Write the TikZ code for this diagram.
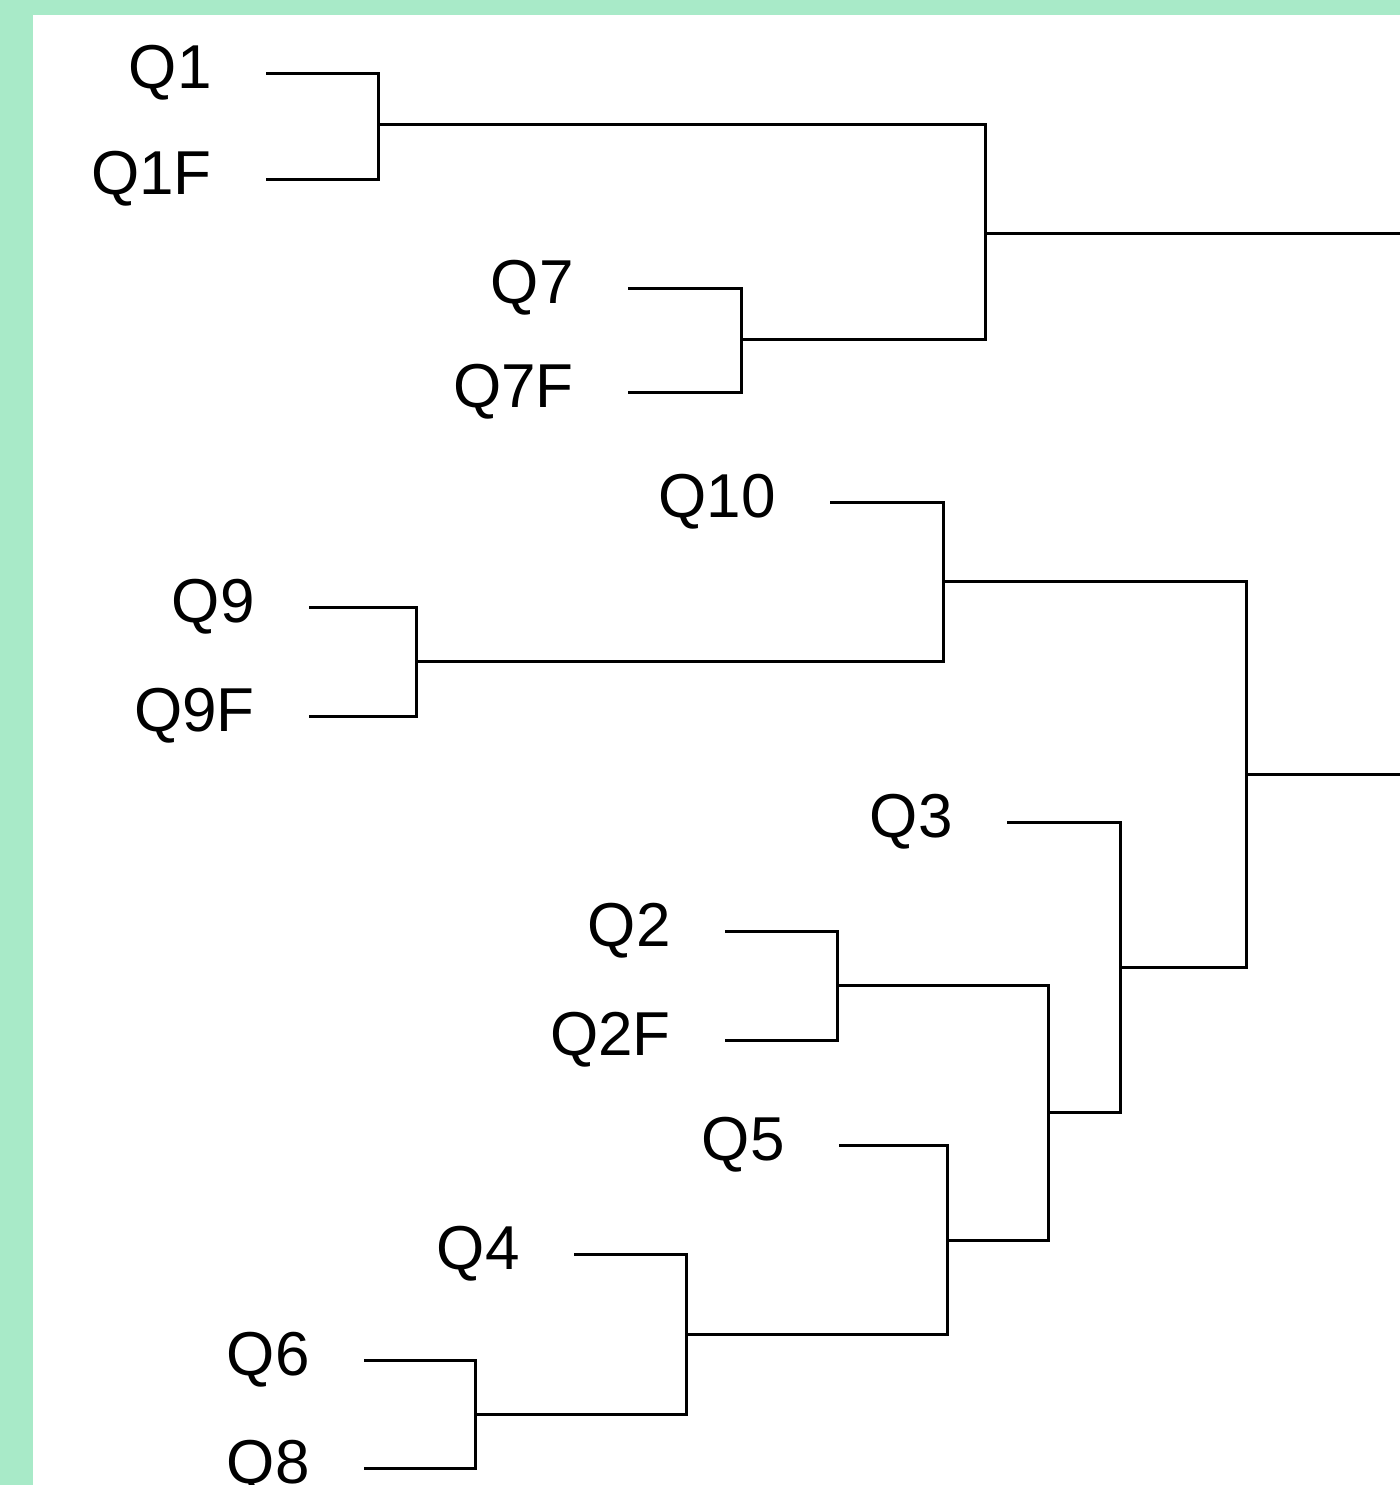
\documentclass[tikz,border=0pt]{standalone}
\usepackage{fontspec}
\setmainfont{Liberation Sans}
\definecolor{framegreen}{RGB}{168,234,200}
\begin{document}
\begin{tikzpicture}[x=0.5pt,y=-0.5pt,
  link/.style={draw=black,line width=1.5pt,line cap=rect},
  leaflabel/.style={anchor=base east,inner sep=0pt,font=\fontsize{31}{31}\selectfont}]
  % frame
  \fill[framegreen] (0,0) rectangle (1400,1485);
  \fill[white] (33,15) rectangle (1400,1485);
  \useasboundingbox (0,0) rectangle (1400,1485);

  % leaf line ends and their labels
  \foreach \n/\t/\x/\y in {q1/Q1/267/73, q1f/Q1F/267/179, q7/Q7/629/288, q7f/Q7F/629/392,
      q10/Q10/831/502, q9/Q9/310/607, q9f/Q9F/310/716, q3/Q3/1008/822,
      q2/Q2/726/931, q2f/Q2F/726/1040, q5/Q5/840/1145, q4/Q4/575/1254,
      q6/Q6/365/1360, q8/Q8/365/1468}{
    \coordinate (\n) at (\x,\y);
    \node[leaflabel] (\n-label) at (\x-55,\y+15) {\t};
  }

  % merge points
  \coordinate (m1)  at (378,124);
  \coordinate (m2)  at (741,339);
  \coordinate (m3)  at (985,233);
  \coordinate (m4)  at (416,661);
  \coordinate (m5)  at (943,581);
  \coordinate (m6)  at (475,1414);
  \coordinate (m7)  at (686,1334);
  \coordinate (m8)  at (947,1240);
  \coordinate (m9)  at (837,985);
  \coordinate (m10) at (1048,1112);
  \coordinate (m11) at (1120,967);
  \coordinate (m12) at (1246,774);
  \coordinate (e1)  at (1400,233);
  \coordinate (e2)  at (1400,774);

  % branches
  \draw[link] (q1) -| (m1) |- (q1f);
  \draw[link] (q7) -| (m2) |- (q7f);
  \draw[link] (m1) -| (m3) |- (m2);
  \draw[link] (q9) -| (m4) |- (q9f);
  \draw[link] (q10) -| (m5) |- (m4);
  \draw[link] (q6) -| (m6) |- (q8);
  \draw[link] (q4) -| (m7) |- (m6);
  \draw[link] (q5) -| (m8) |- (m7);
  \draw[link] (q2) -| (m9) |- (q2f);
  \draw[link] (m9) -| (m10) |- (m8);
  \draw[link] (q3) -| (m11) |- (m10);
  \draw[link] (m5) -| (m12) |- (m11);
  \draw[link] (m3) -- (e1);
  \draw[link] (m12) -- (e2);
\end{tikzpicture}
\end{document}
